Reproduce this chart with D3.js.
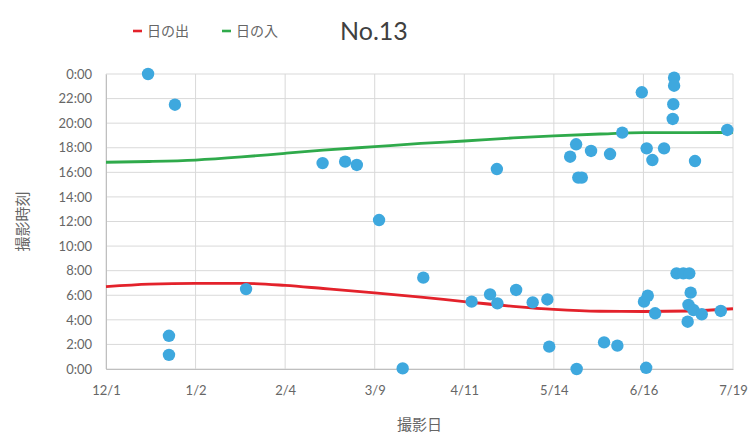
<!DOCTYPE html>
<meta charset="utf-8">
<head>
<script src="https://d3js.org/d3.v7.min.js"></script>
<style>
  body { margin: 0; background: #fff; }
  text { font-family: "Lato", "Noto Sans CJK JP", sans-serif; }
</style>
</head>
<body>
<div id="my_dataviz"></div>
<script>

// x = days since 12/1, y = hour of day
var xTickDays = [0, 33, 66, 99, 132, 165, 198, 231];
var xTickLabels = ["12/1", "1/2", "2/4", "3/9", "4/11", "5/14", "6/16", "7/19"];
var yTicks = [0, 2, 4, 6, 8, 10, 12, 14, 16, 18, 20, 22, 24];

var lineDays = [0, 16, 33, 50, 66, 80, 99, 116, 132, 150, 165, 182, 198, 215, 231];
var sunrise = [6.70, 6.90, 6.97, 6.97, 6.80, 6.55, 6.20, 5.85, 5.48, 5.10, 4.85, 4.70, 4.68, 4.72, 4.90];
var sunset = [16.82, 16.88, 17.00, 17.25, 17.55, 17.80, 18.09, 18.35, 18.55, 18.80, 18.96, 19.12, 19.23, 19.23, 19.25];

var shotDays = [15.5, 25.4, 23.2, 23.2, 51.6, 79.8, 88.1, 92.4, 100.6, 116.9, 109.3, 134.7, 141.5, 144.2, 144.0,
  151.1, 157.2, 162.6, 163.3, 173.4, 173.2, 171.0, 174.0, 175.3, 178.7, 185.7, 190.2, 183.5, 188.4, 197.4,
  199.2, 201.3, 205.6, 198.2, 199.6, 202.3, 199.0, 209.3, 209.3, 209.0, 208.8, 217.0, 228.9, 210.2, 212.7,
  214.9, 215.4, 214.6, 216.4, 219.5, 214.3, 226.5];
var shotHours = [24.0, 21.5, 2.7, 1.15, 6.5, 16.75, 16.87, 16.6, 12.12, 7.43, 0.05, 5.48, 6.07, 5.34, 16.27,
  6.43, 5.42, 5.66, 1.82, 0.0, 18.28, 17.27, 15.57, 15.57, 17.74, 17.49, 19.23, 2.17, 1.9, 22.51,
  17.95, 17.0, 17.95, 5.48, 5.96, 4.53, 0.1, 23.7, 23.05, 21.54, 20.34, 16.92, 19.45, 7.78, 7.78,
  7.78, 6.21, 5.21, 4.8, 4.45, 3.85, 4.72];

var margin = {top: 74, right: 17, bottom: 67, left: 106},
    width = 750 - margin.left - margin.right,
    height = 436 - margin.top - margin.bottom;

var svg = d3.select("#my_dataviz")
  .append("svg")
    .attr("width", 750)
    .attr("height", 436)
  .append("g")
    .attr("transform", "translate(" + margin.left + "," + margin.top + ")");

var x = d3.scaleLinear().domain([0, 231]).range([0, width]);
var y = d3.scaleLinear().domain([0, 24]).range([height, 0]);

// grid
svg.append("g").selectAll("line.h")
  .data(yTicks).enter().append("line")
    .attr("x1", 0).attr("x2", width)
    .attr("y1", function(d) { return y(d); })
    .attr("y2", function(d) { return y(d); })
    .style("stroke", "#d9d9d9").style("stroke-width", 1);
svg.append("g").selectAll("line.v")
  .data(xTickDays).enter().append("line")
    .attr("x1", function(d) { return x(d); })
    .attr("x2", function(d) { return x(d); })
    .attr("y1", 0).attr("y2", height)
    .style("stroke", "#d9d9d9").style("stroke-width", 1);

// axes
var xAxis = svg.append("g")
  .attr("transform", "translate(0," + height + ")")
  .call(d3.axisBottom(x).tickValues(xTickDays).tickSize(0).tickPadding(17)
    .tickFormat(function(d, i) { return xTickLabels[i]; }));
var yAxis = svg.append("g")
  .call(d3.axisLeft(y).tickValues(yTicks).tickSize(0).tickPadding(14)
    .tickFormat(function(d) { return (d % 24) + ":00"; }));
[xAxis, yAxis].forEach(function(a) {
  a.select(".domain").style("stroke", "#bfbfbf");
  a.selectAll("text").style("font-size", "13px").style("fill", "#666");
});

// lines
var line = function(vals) {
  return d3.line()
    .x(function(d, i) { return x(lineDays[i]); })
    .y(function(d) { return y(d); })
    .curve(d3.curveMonotoneX)(vals);
};
svg.append("path").attr("d", line(sunrise))
  .style("fill", "none").style("stroke", "#e3222b").style("stroke-width", 2.8);
svg.append("path").attr("d", line(sunset))
  .style("fill", "none").style("stroke", "#2faa4b").style("stroke-width", 2.8);

// dots
svg.append("g").selectAll("circle")
  .data(shotDays).enter().append("circle")
    .attr("cx", function(d) { return x(d); })
    .attr("cy", function(d, i) { return y(shotHours[i]); })
    .attr("r", 6.2)
    .style("fill", "#3ea8de");

// axis titles
svg.append("text")
  .attr("x", width / 2).attr("y", height + 61)
  .attr("text-anchor", "middle")
  .style("font-size", "15px").style("fill", "#666")
  .text("撮影日");
svg.append("text")
  .attr("transform", "translate(-78," + (height / 2) + ")rotate(-90)")
  .attr("text-anchor", "middle")
  .style("font-size", "15px").style("fill", "#666")
  .text("撮影時刻");

// legend + title
var legend = d3.select("svg").append("g");
legend.append("line").attr("x1", 133).attr("x2", 142).attr("y1", 31).attr("y2", 31)
  .style("stroke", "#e3222b").style("stroke-width", 2.6);
legend.append("text").attr("x", 147).attr("y", 36)
  .style("font-size", "14px").style("fill", "#666").text("日の出");
legend.append("line").attr("x1", 222).attr("x2", 231).attr("y1", 31).attr("y2", 31)
  .style("stroke", "#2faa4b").style("stroke-width", 2.6);
legend.append("text").attr("x", 236).attr("y", 36)
  .style("font-size", "14px").style("fill", "#666").text("日の入");
legend.append("text").attr("x", 340).attr("y", 40)
  .style("font-size", "25px").style("fill", "#404040").text("No.13");

</script>
</body>
</html>
